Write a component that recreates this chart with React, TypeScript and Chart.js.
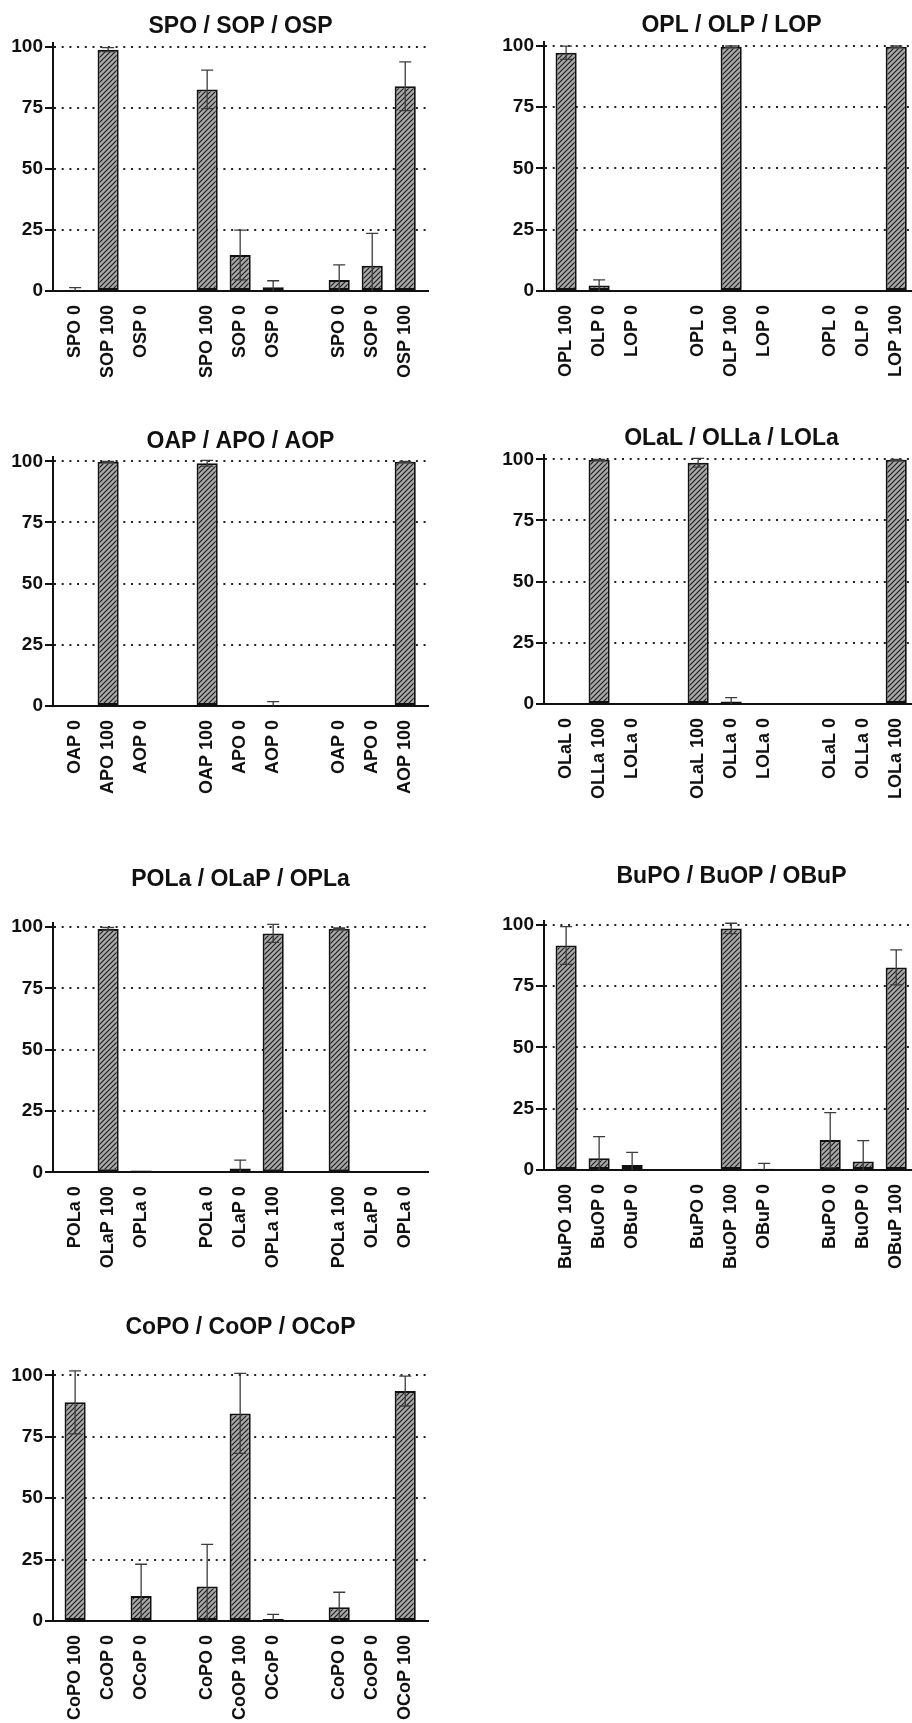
import React, { useEffect, useRef } from "react";
import { Chart, registerables } from "chart.js";

Chart.register(...registerables);

const FONT = '"Liberation Sans", Arial, Helvetica, sans-serif';

// slot of each bar on the x axis: three groups of three, an empty slot between groups
const X_SLOTS = [0, 1, 2, 4, 5, 6, 8, 9, 10];
const X_MIN = -0.67;
const X_MAX = 10.69;
const Y_MIN = 0;
const Y_MAX = 101.6;
const Y_STEP = 25;

// ---- Panel 1
const spoTitle = "SPO / SOP / OSP";
const spoLabels = ["SPO 0", "SOP 100", "OSP 0", "SPO 100", "SOP 0", "OSP 0", "SPO 0", "SOP 0", "OSP 100"];
const spoMeans = [0.1, 99.0, 0, 82.7, 14.8, 1.5, 4.5, 10.4, 84.0];
const spoErrors = [1.3, 0.8, 0, 7.9, 10.2, 2.7, 6.2, 13.2, 10.0];

// ---- Panel 2
const oplTitle = "OPL / OLP / LOP";
const oplLabels = ["OPL 100", "OLP 0", "LOP 0", "OPL 0", "OLP 100", "LOP 0", "OPL 0", "OLP 0", "LOP 100"];
const oplMeans = [97.1, 2.2, 0, 0, 99.6, 0, 0, 0.2, 99.6];
const oplErrors = [2.7, 2.3, 0, 0, 0.3, 0, 0, 0, 0.3];

// ---- Panel 3
const oapTitle = "OAP / APO / AOP";
const oapLabels = ["OAP 0", "APO 100", "AOP 0", "OAP 100", "APO 0", "AOP 0", "OAP 0", "APO 0", "AOP 100"];
const oapMeans = [0, 99.8, 0, 99.2, 0, 0.2, 0, 0, 99.8];
const oapErrors = [0, 0.2, 0, 1.2, 0, 1.6, 0, 0, 0.2];

// ---- Panel 4
const olalTitle = "OLaL / OLLa / LOLa";
const olalLabels = ["OLaL 0", "OLLa 100", "LOLa 0", "OLaL 100", "OLLa 0", "LOLa 0", "OLaL 0", "OLLa 0", "LOLa 100"];
const olalMeans = [0, 99.8, 0.2, 98.6, 1.0, 0, 0, 0, 99.8];
const olalErrors = [0, 0.2, 0, 1.8, 1.6, 0, 0, 0, 0.2];

// ---- Panel 5
const polaTitle = "POLa / OLaP / OPLa";
const polaLabels = ["POLa 0", "OLaP 100", "OPLa 0", "POLa 0", "OLaP 0", "OPLa 100", "POLa 100", "OLaP 0", "OPLa 0"];
const polaMeans = [0, 99.2, 0.7, 0, 1.6, 97.4, 99.3, 0.2, 0];
const polaErrors = [0, 0.6, 0, 0, 3.4, 3.7, 0.3, 0, 0];

// ---- Panel 6
const bupoTitle = "BuPO / BuOP / OBuP";
const bupoLabels = ["BuPO 100", "BuOP 0", "OBuP 0", "BuPO 0", "BuOP 100", "OBuP 0", "BuPO 0", "BuOP 0", "OBuP 100"];
const bupoMeans = [91.5, 4.8, 2.0, 0, 98.5, 0.5, 12.2, 3.5, 82.6];
const bupoErrors = [7.7, 8.8, 5.2, 0, 2.1, 2.2, 11.2, 8.5, 7.1];

// ---- Panel 7
const copoTitle = "CoPO / CoOP / OCoP";
const copoLabels = ["CoPO 100", "CoOP 0", "OCoP 0", "CoPO 0", "CoOP 100", "OCoP 0", "CoPO 0", "CoOP 0", "OCoP 100"];
const copoMeans = [89.0, 0, 10.2, 14.0, 84.5, 0.8, 5.6, 0, 93.6];
const copoErrors = [12.8, 0, 12.9, 17.2, 16.3, 1.9, 6.1, 0, 6.1];

const PANELS = [
  { title: spoTitle, labels: spoLabels, means: spoMeans, errors: spoErrors },
  { title: oplTitle, labels: oplLabels, means: oplMeans, errors: oplErrors },
  { title: oapTitle, labels: oapLabels, means: oapMeans, errors: oapErrors },
  { title: olalTitle, labels: olalLabels, means: olalMeans, errors: olalErrors },
  { title: polaTitle, labels: polaLabels, means: polaMeans, errors: polaErrors },
  { title: bupoTitle, labels: bupoLabels, means: bupoMeans, errors: bupoErrors },
  { title: copoTitle, labels: copoLabels, means: copoMeans, errors: copoErrors },
];

// page layout (pixels): canvas left, title centre, y of the 100 line, y of the 0 line
const LAYOUT = [
  { left: 0, titleY: 26.7, y100: 47.2, y0: 291 },
  { left: 491, titleY: 25.5, y100: 45.7, y0: 291 },
  { left: 0, titleY: 441.7, y100: 461.3, y0: 706 },
  { left: 491, titleY: 439, y100: 459.3, y0: 704 },
  { left: 0, titleY: 879.2, y100: 927, y0: 1172.3 },
  { left: 491, titleY: 876.3, y100: 924.7, y0: 1170 },
  { left: 0, titleY: 1327.3, y100: 1375.3, y0: 1621 },
];

const CANVAS_W = 456;
const Y_AXIS_W = 53;
const PAD_RIGHT = 28;
const TITLE_SIZE = 23;
const X_AXIS_SPACE = 125;

function makeHatch(): CanvasPattern | string {
  const s = 5;
  const c = document.createElement("canvas");
  c.width = s;
  c.height = s;
  const g = c.getContext("2d");
  if (!g) return "#888";
  g.fillStyle = "#a8a8a8";
  g.fillRect(0, 0, s, s);
  g.strokeStyle = "#1a1a1a";
  g.lineWidth = 1.1;
  g.beginPath();
  g.moveTo(-1, s + 1);
  g.lineTo(s + 1, -1);
  g.moveTo(-1, 1);
  g.lineTo(1, -1);
  g.moveTo(s - 1, s + 1);
  g.lineTo(s + 1, s - 1);
  g.stroke();
  const p = g.createPattern(c, "repeat");
  return p || "#888";
}

type PanelData = { title: string; labels: string[]; means: number[]; errors: number[] };
type Lay = { left: number; titleY: number; y100: number; y0: number };

function Panel({ p, lay }: { p: PanelData; lay: Lay }) {
  const ref = useRef<HTMLCanvasElement>(null);
  const top = Math.round(lay.titleY - 20);
  const y0 = lay.y0 - top;
  const height = Math.ceil(y0 + X_AXIS_SPACE);
  const xAxisH = height - y0;
  const k = (lay.y0 - lay.y100) / 100;
  const chartTop = lay.y100 - top - (Y_MAX - 100) * k;
  const LH = TITLE_SIZE * 1.2;
  const tY = lay.titleY - top;
  const padTop = tY - LH / 2;
  const padBottom = chartTop - tY - LH / 2;

  useEffect(() => {
    if (!ref.current) return;
    const slotLabel: Record<number, string> = {};
    X_SLOTS.forEach((s, i) => (slotLabel[s] = p.labels[i]));
    const hatch = makeHatch();

    const errorBars = {
      id: "errorBars",
      afterDatasetsDraw(chart: any) {
        const meta = chart.getDatasetMeta(0);
        const ys = chart.scales.y;
        const ctx = chart.ctx;
        ctx.save();
        ctx.strokeStyle = "#3c3c3c";
        ctx.lineWidth = 1.3;
        meta.data.forEach((el: any, i: number) => {
          const e = p.errors[i];
          if (!e) return;
          const m = p.means[i];
          const yt = ys.getPixelForValue(m + e);
          const lo = Math.max(0, m - e);
          const yb = ys.getPixelForValue(lo);
          const x = el.x;
          ctx.beginPath();
          ctx.moveTo(x, yt);
          ctx.lineTo(x, yb);
          ctx.moveTo(x - 6, yt);
          ctx.lineTo(x + 6, yt);
          if (lo > 0) {
            ctx.moveTo(x - 6, yb);
            ctx.lineTo(x + 6, yb);
          }
          ctx.stroke();
        });
        ctx.restore();
      },
    };

    const chart = new Chart(ref.current, {
      type: "bar",
      data: {
        datasets: [
          {
            data: X_SLOTS.map((x, i) => ({ x, y: p.means[i] })),
            backgroundColor: hatch as any,
            borderColor: "#111",
            borderWidth: 2,
            borderSkipped: false,
            categoryPercentage: 1,
            barPercentage: 0.64,
          } as any,
        ],
      },
      options: {
        responsive: false,
        maintainAspectRatio: false,
        devicePixelRatio: 1,
        animation: false,
        events: [],
        layout: { padding: { top: 0, left: 0, right: PAD_RIGHT, bottom: 0 } },
        plugins: {
          legend: { display: false },
          tooltip: { enabled: false },
          title: {
            display: true,
            text: p.title,
            fullSize: false,
            color: "#111",
            font: { family: FONT, size: TITLE_SIZE, weight: "bold" },
            padding: { top: padTop, bottom: padBottom },
          } as any,
        },
        scales: {
          x: {
            type: "linear",
            offset: false,
            min: X_MIN,
            max: X_MAX,
            afterFit: (s: any) => {
              s.height = xAxisH;
            },
            grid: { display: false, drawTicks: false, offset: false },
            border: { display: true, color: "#111", width: 2 },
            ticks: {
              stepSize: 1,
              includeBounds: false,
              autoSkip: false,
              minRotation: 90,
              maxRotation: 90,
              padding: 14,
              color: "#111",
              font: { family: FONT, size: 18, weight: "bold" },
              callback: (v: any) => (slotLabel[v as number] !== undefined ? slotLabel[v as number] : ""),
            },
          } as any,
          y: {
            min: Y_MIN,
            max: Y_MAX,
            afterFit: (s: any) => {
              s.width = Y_AXIS_W;
            },
            grid: {
              color: (c: any) => (c.tick && c.tick.value === 0 ? "rgba(0,0,0,0)" : "#222"),
              lineWidth: 2,
              drawTicks: true,
              tickLength: 8,
              tickWidth: 2,
              tickColor: "#111",
            },
            border: { display: true, color: "#111", width: 2, dash: [2, 5.7] },
            ticks: {
              stepSize: Y_STEP,
              includeBounds: false,
              padding: 2,
              color: "#111",
              font: { family: FONT, size: 19, weight: "bold" },
            },
          } as any,
        },
      },
      plugins: [errorBars],
    } as any);
    return () => chart.destroy();
  }, []);

  return (
    <canvas
      ref={ref}
      width={CANVAS_W}
      height={height}
      style={{ position: "absolute", left: lay.left, top, width: CANVAS_W, height }}
    />
  );
}

export default function App() {
  return (
    <div
      style={{
        position: "fixed",
        left: 0,
        top: 0,
        width: 912,
        height: 1723,
        overflow: "hidden",
        background: "#fff",
      }}
    >
      {PANELS.map((p, i) => (
        <Panel key={i} p={p} lay={LAYOUT[i]} />
      ))}
    </div>
  );
}
